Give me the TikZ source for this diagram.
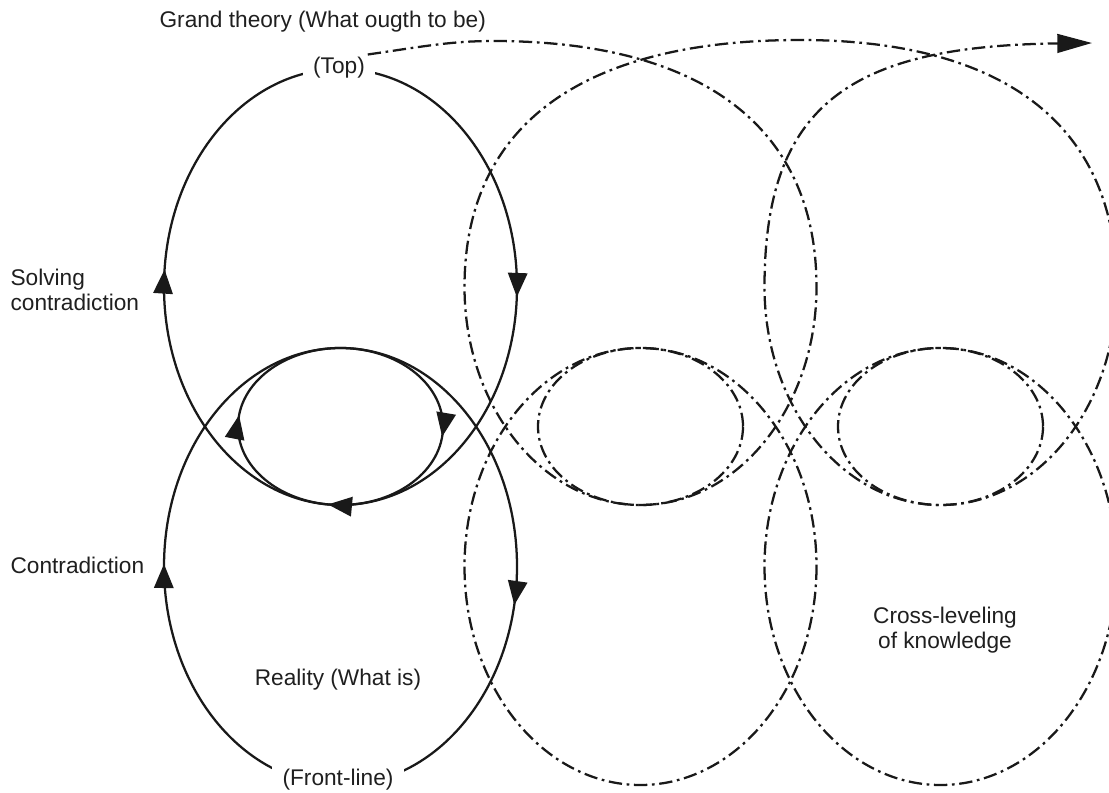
\documentclass[tikz,border=0pt]{standalone}
\usepackage{fontspec}
\setmainfont{Liberation Sans}
\usetikzlibrary{arrows.meta,decorations.markings}
\begin{document}
\begin{tikzpicture}[x=0.75pt,y=-0.75pt,
  >={Triangle[length=18pt,width=14.5pt]},
  solidline/.style={line width=1.7pt, draw=black!90},
  dashdot/.style={line width=1.7pt, draw=black!90, dash pattern=on 10pt off 3.5pt on 2pt off 3.5pt},
  arr/.style={postaction={decorate,decoration={markings,mark=at position #1 with {\arrow{>}}}}},
  lbl/.style={font=\fontsize{17}{18.75}\selectfont, inner sep=1pt, text=black!88},
  gaplbl/.style={lbl, fill=white, inner xsep=8pt, inner ysep=3pt}]
\useasboundingbox (0,0) rectangle (1109,792);
% solid loops
\draw[solidline, arr=0.008, arr=0.514] (340.5,287) ellipse [x radius=176.5, y radius=218];
\draw[solidline, arr=0.031, arr=0.502] (340.5,566.5) ellipse [x radius=176.5, y radius=218.5];
\draw[solidline, arr=0.018, arr=0.272, arr=0.52] (340.5,426.5) ellipse [x radius=102.5, y radius=78.5];
% labels
\node[lbl, anchor=west] (grand) at (158,22) {Grand theory (What ougth to be)};
\node[gaplbl] (top) at (339,68) {(Top)};
\node[gaplbl] (front) at (338,780) {(Front-line)};
\node[lbl, anchor=west, align=left] (solving) at (9,290) {Solving\\contradiction};
\node[lbl, anchor=west] (contra) at (9,565) {Contradiction};
\node[lbl] (reality) at (338,680) {Reality (What is)};
\node[lbl, align=center] (cross) at (945,630) {Cross-leveling\\of knowledge};
\coordinate (exit) at (1092,43);
% dashed copies
\draw[dashdot] (640.5,566.5) ellipse [x radius=176, y radius=218.5];
\draw[dashdot] (640.5,426.5) ellipse [x radius=102.5, y radius=78.5];
\draw[dashdot] (940.5,566.5) ellipse [x radius=176, y radius=218.5];
\draw[dashdot] (940.5,426.5) ellipse [x radius=102.5, y radius=78.5];
% spiral
\draw[dashdot, -{Triangle[length=26pt,width=14pt]}] ([xshift=-6pt,yshift=-1pt]top.north east)
  .. controls (420,47) and (450,41) .. (493,41)
  .. controls (702,41) and (816.5,127) .. (816.5,287)
  arc[start angle=0, end angle=180, x radius=176, y radius=218]
  .. controls (464.5,126) and (581,40) .. (800,40)
  .. controls (1005,40) and (1116.5,126) .. (1116.5,287)
  arc[start angle=0, end angle=180, x radius=176, y radius=218]
  .. controls (764.5,105) and (850,46) .. (exit);
\end{tikzpicture}
\end{document}
